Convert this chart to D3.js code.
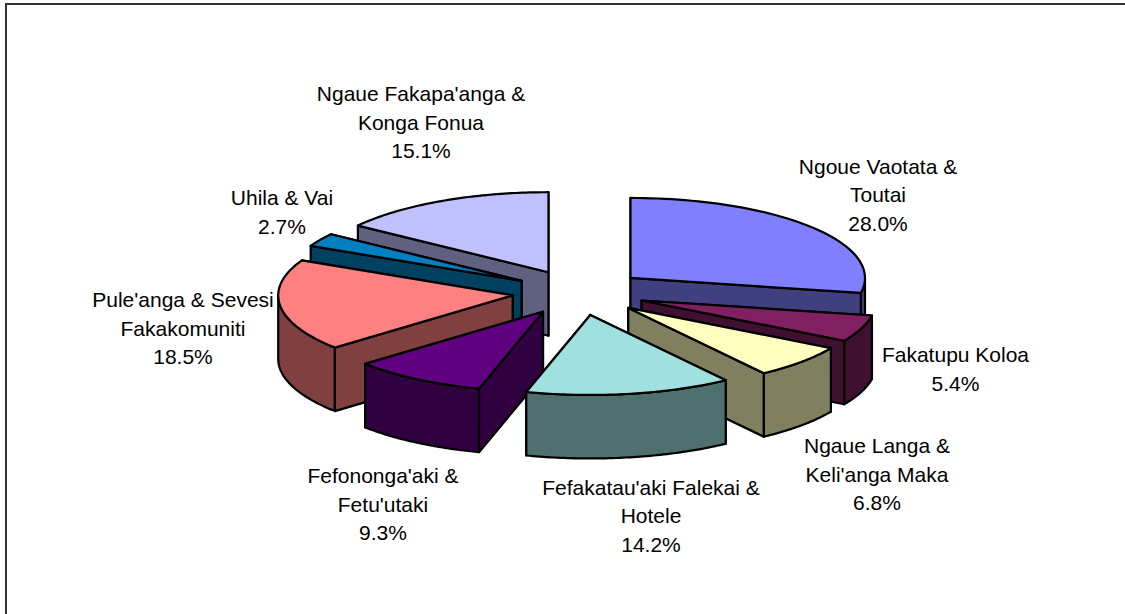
<!DOCTYPE html>
<html><head><meta charset="utf-8">
<script src="https://cdn.jsdelivr.net/npm/d3@7"></script>
<style>html,body{margin:0;padding:0;background:#fff}svg{display:block}
text{font-family:"Liberation Sans",Arial,sans-serif;font-size:21px;fill:#000;text-anchor:middle}</style>
</head><body><svg id="c" width="1125" height="614"></svg>
<script>
const categories = ["Ngoue Vaotata & Toutai","Fakatupu Koloa","Ngaue Langa & Keli'anga Maka","Fefakatau'aki Falekai & Hotele","Fefononga'aki & Fetu'utaki","Pule'anga & Sevesi Fakakomuniti","Uhila & Vai","Ngaue Fakapa'anga & Konga Fonua"];
const values = [28.0,5.4,6.8,14.2,9.3,18.5,2.7,15.1];
const topColors = ["#8080FF","#802060","#FFFFC0","#A0E0E0","#600080","#FF8080","#0080C0","#C0C0FF"];
const labelLines = [["Ngoue Vaotata &","Toutai"],["Fakatupu Koloa"],["Ngaue Langa &","Keli'anga Maka"],["Fefakatau'aki Falekai &","Hotele"],["Fefononga'aki &","Fetu'utaki"],["Pule'anga & Sevesi","Fakakomuniti"],["Uhila & Vai"],["Ngaue Fakapa'anga &","Konga Fonua"]];

// layout (not data)
const W=1125,H=614,cx=579,cy=292.5,rx=234.5,ry=80,depth=63.5,explode=0.285;
const paintOrder=[7,0,6,5,1,2,4,3];
const labelAnchor=[[878,173.5],[955.5,362],[877,453],[651,494.5],[383,483],[183,307],[282,205],[421,101]];
const lineGap=28.6;

const x=d3.scaleLinear().domain([-1,1]).range([cx-rx,cx+rx]);
const y=d3.scaleLinear().domain([-1,1]).range([cy+ry,cy-ry]);
const svg=d3.select("#c");
svg.append("path").attr("d",`M6,${H}V4H${W}`).attr("fill","none").attr("stroke","#333").attr("stroke-width",2);

const arcs=d3.pie().sort(null).value(d=>d)(values);
const line=d3.line();
const pt=(a,o,r=1)=>[x(o.u+r*Math.sin(a)),y(o.v+r*Math.cos(a))];
const arcPts=(a0,a1,o)=>d3.range(0,61).map(i=>pt(a0+(a1-a0)*i/60,o));
const down=p=>[p[0],p[1]+depth];
const closed=pts=>line(pts)+"Z";
const shade=c=>{const k=d3.rgb(c);return d3.rgb(k.r/2,k.g/2,k.b/2).formatHex();};
const PI=Math.PI;

function radialWall(a,o){const c=pt(0,o,0),e=pt(a,o);return [c,e,down(e),down(c)];}
const faces=paintOrder.map(i=>{
  const d=arcs[i],mid=(d.startAngle+d.endAngle)/2;
  const o={u:explode*Math.sin(mid),v:explode*Math.cos(mid)};
  return {i,d,o};
});
const style=(sel,fill)=>sel.attr("fill",fill).attr("stroke","#000").attr("stroke-width",2.2).attr("stroke-linejoin","round");
faces.forEach(({i,d,o})=>{
  const g=svg.append("g"),wall=shade(topColors[i]);
  const startFront=Math.sin(d.startAngle)<0,endFront=Math.sin(d.endAngle)>0;
  const rad=a=>style(g.append("path").attr("d",closed(radialWall(a,o))),wall);
  if(!startFront)rad(d.startAngle);
  if(!endFront)rad(d.endAngle);
  const lo=Math.max(d.startAngle,PI/2),hi=Math.min(d.endAngle,3*PI/2);
  if(hi>lo){const p=arcPts(lo,hi,o);style(g.append("path").attr("d",closed(p.concat(p.map(down).reverse()))),wall);}
  if(startFront)rad(d.startAngle);
  if(endFront)rad(d.endAngle);
  style(g.append("path").attr("d",closed([pt(0,o,0)].concat(arcPts(d.startAngle,d.endAngle,o)))),topColors[i]);
});

labelLines.forEach((ls,i)=>{
  const t=svg.append("text").attr("x",labelAnchor[i][0]).attr("y",labelAnchor[i][1]);
  ls.concat([values[i].toFixed(1)+"%"]).forEach((s,j)=>{
    t.append("tspan").attr("x",labelAnchor[i][0]).attr("y",labelAnchor[i][1]+j*lineGap).text(s);
  });
});
</script></body></html>
